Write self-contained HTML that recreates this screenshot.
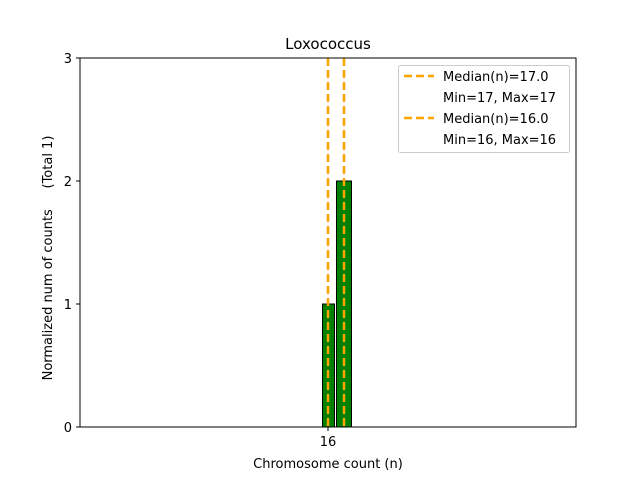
<!DOCTYPE html>
<html><head><style>body{margin:0;background:#fff}</style></head><body>
<svg width="640" height="480" xmlns="http://www.w3.org/2000/svg" font-family="DejaVu Sans, sans-serif">
<rect width="640" height="480" fill="#fff"/>
<line x1="80" y1="427" x2="398" y2="427" stroke="#000" stroke-width="1"/>
<rect x="322.5" y="304" width="12" height="123" fill="#008000" stroke="#000" stroke-width="1"/>
<rect x="336.5" y="181" width="15" height="246" fill="#008000" stroke="#000" stroke-width="1"/>
<line x1="328" y1="58" x2="328" y2="427" stroke="#ffa500" stroke-width="2.5" stroke-dasharray="8,4"/>
<line x1="344" y1="58" x2="344" y2="427" stroke="#ffa500" stroke-width="2.5" stroke-dasharray="8,4"/>
<rect x="80" y="58" width="496" height="369" fill="none" stroke="#000" stroke-width="1"/>
<g stroke="#000"><line x1="76" y1="58" x2="80" y2="58"/><line x1="76" y1="181" x2="80" y2="181"/><line x1="76" y1="304" x2="80" y2="304"/><line x1="76" y1="427" x2="80" y2="427"/><line x1="328" y1="427" x2="328" y2="431"/></g>
<g font-size="13" text-anchor="end"><text x="72" y="63">3</text><text x="72" y="186">2</text><text x="72" y="309">1</text><text x="72" y="432">0</text></g>
<text x="328" y="446" font-size="13" text-anchor="middle">16</text>
<text x="328" y="468" font-size="13" text-anchor="middle">Chromosome count (n)</text>
<text x="328" y="49" font-size="15" text-anchor="middle">Loxococcus</text>
<text transform="translate(52,258) rotate(-90)" font-size="13" text-anchor="middle" xml:space="preserve" style="white-space:pre">Normalized num of counts     (Total 1)</text>
<rect x="398.5" y="65.5" width="171" height="87" rx="2" fill="#fff" fill-opacity="0.8" stroke="#ccc"/>
<g stroke="#ffa500" stroke-width="2.5" stroke-dasharray="8,4"><line x1="404" y1="76" x2="434" y2="76"/><line x1="404" y1="118" x2="434" y2="118"/></g>
<g font-size="13"><text x="443" y="81">Median(n)=17.0</text><text x="443" y="102">Min=17, Max=17</text><text x="443" y="123">Median(n)=16.0</text><text x="443" y="144">Min=16, Max=16</text></g>
</svg>
</body></html>
